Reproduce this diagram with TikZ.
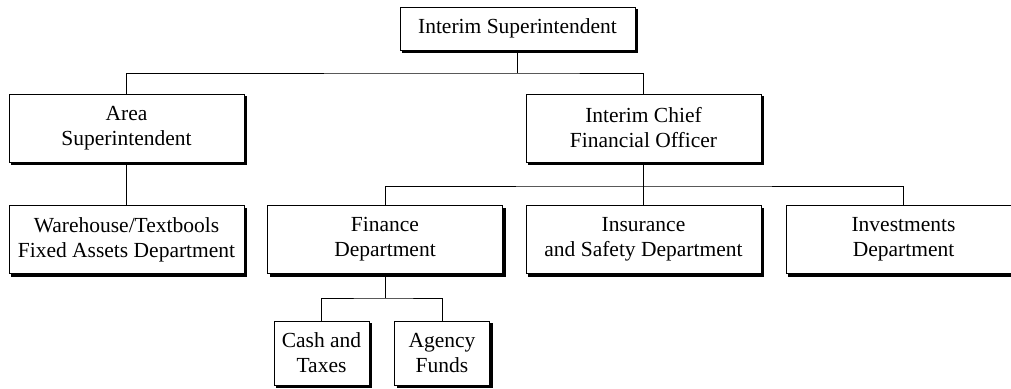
\documentclass[tikz,border=0pt]{standalone}
\usepackage{fontspec}
\setmainfont{Liberation Serif}
\usetikzlibrary{shadows}
\begin{document}
\begin{tikzpicture}[x=1pt,y=-1pt,
  line width=1pt,
  orgbox/.style={draw=black, fill=white, line width=1pt,
    minimum width=235pt, minimum height=68pt, inner sep=0pt,
    align=center, font=\fontsize{21.5}{25}\selectfont,
    copy shadow={shadow xshift=2.5pt, shadow yshift=-2.5pt,
      fill=black, draw=black, line width=1pt}},
  smallbox/.style={orgbox, minimum width=95pt, minimum height=64pt},
  link/.style={draw=black, line width=1pt}]
\useasboundingbox (0,0) rectangle (1011,388);

% top level
\node[orgbox, minimum height=43pt] (top) at (517.5,28.5) {Interim Superintendent};

% second level
\node[orgbox] (area) at (126.5,128) {Area\\Superintendent};
\node[orgbox] (cfo)  at (643.5,128) {Interim Chief\\Financial Officer};

% third level
\node[orgbox] (ware) at (126.5,239.5) {Warehouse/Textbools\\Fixed Assets Department};
\node[orgbox] (fin)  at (385,239.5)   {Finance\\Department};
\node[orgbox] (ins)  at (643.5,239.5) {Insurance\\and Safety Department};
\node[orgbox] (inv)  at (903.5,239.5) {Investments\\Department};

% fourth level
\node[smallbox] (cash)   at (321.5,353) {Cash and\\Taxes};
\node[smallbox] (agency) at (442,353)   {Agency\\Funds};

% junction points of the branch lines
\coordinate (j1) at (517.5,73);
\coordinate (j2) at (643.5,186);
\coordinate (j3) at (385,298);

\draw[link] (top.south) -- (j1);
\draw[link] (area.north) |- (j1) -| (cfo.north);
\draw[link] (area.south) -- (ware.north);
\draw[link] (cfo.south) -- (j2) -- (ins.north);
\draw[link] (fin.north) |- (j2) -| (inv.north);
\draw[link] (fin.south) -- (j3);
\draw[link] (cash.north) |- (j3) -| (agency.north);
\end{tikzpicture}
\end{document}
